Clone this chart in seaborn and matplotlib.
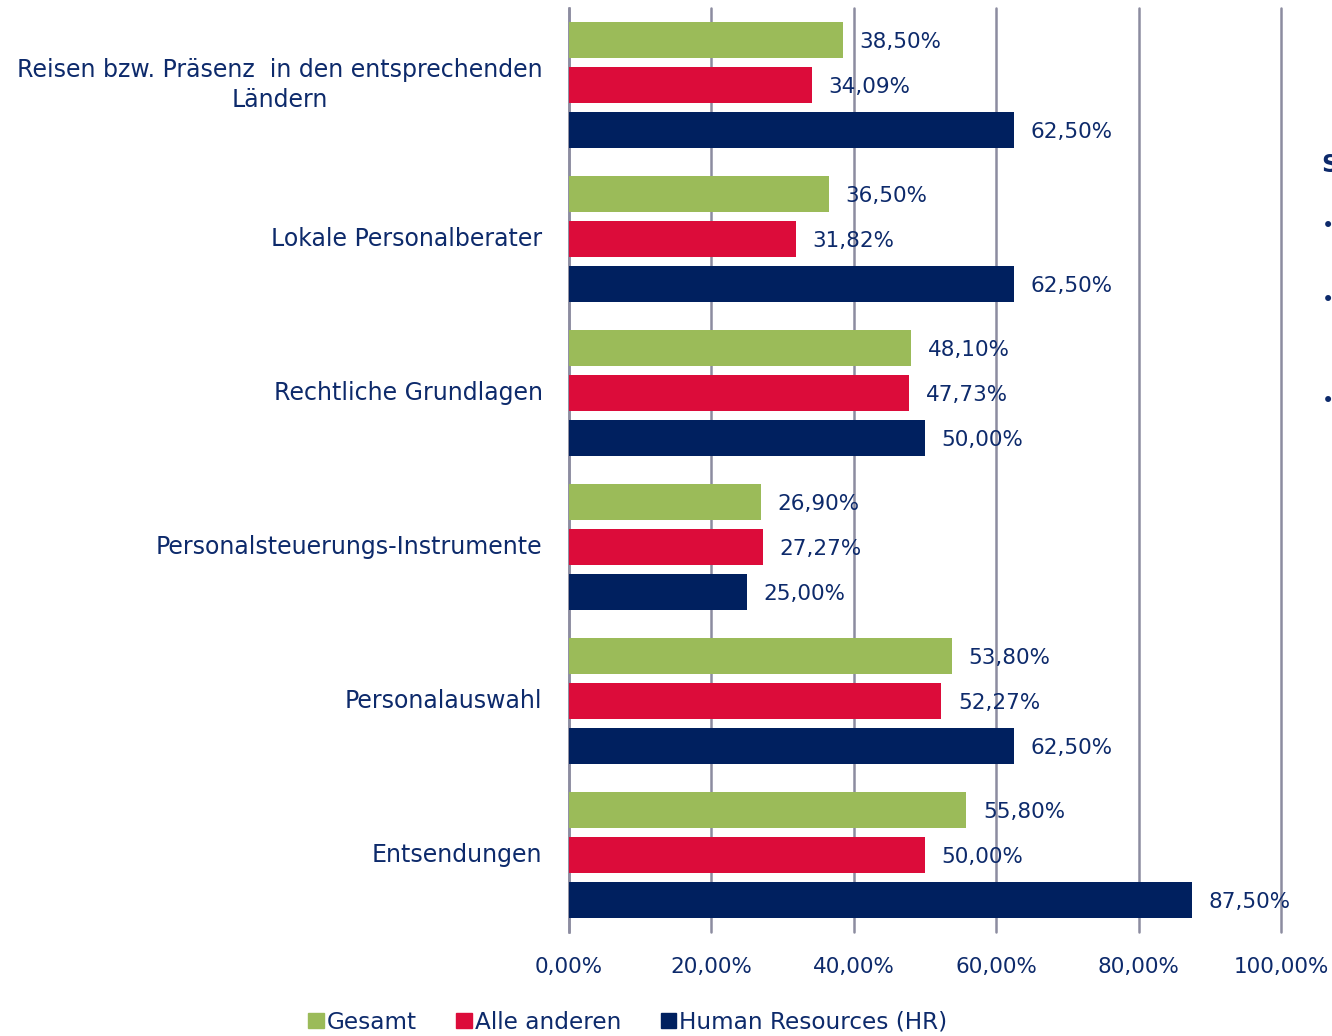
import pandas as pd
import seaborn as sns
import matplotlib.pyplot as plt

# Data (percent)
categories = ['Reisen bzw. Präsenz  in den entsprechenden\nLändern',
              'Lokale Personalberater',
              'Rechtliche Grundlagen',
              'Personalsteuerungs-Instrumente',
              'Personalauswahl',
              'Entsendungen']
groups = ['Gesamt', 'Alle anderen', 'Human Resources (HR)']
gesamt = [38.50, 36.50, 48.10, 26.90, 53.80, 55.80]
alle_anderen = [34.09, 31.82, 47.73, 27.27, 52.27, 50.00]
hr = [62.50, 62.50, 50.00, 25.00, 62.50, 87.50]
xticks = [0, 20, 40, 60, 80, 100]

colors = ['#9BBB59', '#DC0C3A', '#00205F']
text_col = '#0D2A6B'
grid_col = '#8C8CA0'

rows = []
for g, vals in zip(groups, [gesamt, alle_anderen, hr]):
    for c, v in zip(categories, vals):
        rows.append({'Kategorie': c, 'Gruppe': g, 'Wert': v})
dat = pd.DataFrame(rows)

sns.set_style('white')
plt.rcParams['font.family'] = ['DejaVu Sans']

fig = plt.figure(figsize=(13.32, 10.36), dpi=100)
ax = fig.add_axes([569 / 1332, 1 - 932 / 1036, 712 / 1332, 924 / 1036])

sns.barplot(data=dat, x='Wert', y='Kategorie', hue='Gruppe', orient='h',
            order=categories, hue_order=groups, palette=colors,
            width=0.88, gap=0.2, saturation=1, linewidth=0,
            ax=ax, legend=False, zorder=3)

# value labels
for cont in ax.containers:
    for bar in cont:
        w = bar.get_width()
        y = bar.get_y() + bar.get_height() / 2
        ax.annotate(f'{w:.2f}%'.replace('.', ','), (w, y), xytext=(12, -1.5),
                    textcoords='offset points', va='center', ha='left',
                    fontsize=15.5, color=text_col, zorder=4)

ax.set_xlim(0, 100)
ax.set_xticks(xticks)
ax.set_xticklabels([f'{t:.2f}%'.replace('.', ',') for t in xticks])
ax.set_xlabel('')
ax.set_ylabel('')
ax.grid(axis='x', color=grid_col, linewidth=1.8, zorder=0)
ax.set_axisbelow(True)
for gl in ax.xaxis.get_gridlines():
    gl.set_clip_on(False)
for s in ['top', 'right', 'bottom']:
    ax.spines[s].set_visible(False)
ax.spines['left'].set_color(grid_col)
ax.spines['left'].set_linewidth(1.8)
ax.tick_params(axis='x', length=0, pad=18, labelsize=15.5, labelcolor=text_col)
ax.tick_params(axis='y', length=0, pad=19, labelsize=17, labelcolor=text_col)
for lab in ax.get_yticklabels():
    lab.set_multialignment('center')
    lab.set_linespacing(1.35)
    lab.set_va('center')

# legend
handles = [plt.Rectangle((0, 0), 1, 1, color=c) for c in colors]
fig.legend(handles, groups, loc='lower center', bbox_to_anchor=(628 / 1332, -0.018),
           ncol=3, frameon=False, handlelength=0.65, handleheight=0.65,
           handletextpad=0.15, columnspacing=1.7, fontsize=16.7, labelcolor=text_col)

# cut-off text of the slide on the right edge
fig.text(1321 / 1332, 1 - 165 / 1036, 'S', fontsize=17, fontweight='bold',
         color=text_col, ha='left', va='center')
for yy in [226, 300, 401]:
    fig.text(1322 / 1332, 1 - yy / 1036, '•', fontsize=15, color=text_col,
             ha='left', va='center')

fig.savefig('out.png', dpi=100)
